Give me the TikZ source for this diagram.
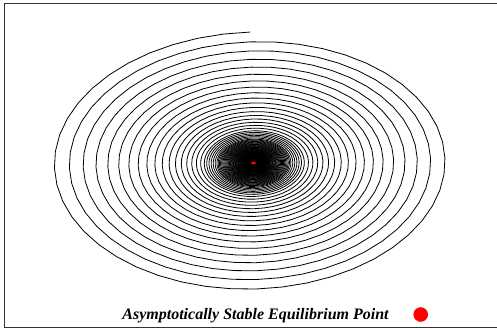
\documentclass[tikz,border=0pt]{standalone}
\usepackage{fontspec}
\setmainfont{Liberation Serif}

\begin{document}
\begin{tikzpicture}[x=1pt,y=-1pt]
		% Page area, same size as the plot window
		\useasboundingbox (0,0) rectangle (497,329);
		
		% Frame (left, top and bottom only)
		\draw[line width=1.4pt, black!80] (497,3.5) -- (4.5,3.5) -- (4.5,327.5) -- (497,327.5);
		
		% Centre of the phase portrait
		\coordinate (Eq) at (253.5,163);
		
		% Trajectory: a decaying spiral, one turn per step
		% (decay slows down after 18 and 24 turns, so the centre fills up)
		\begin{scope}[shift={(Eq)}, yscale=-1, rotate=-1.5]
			\foreach \n in {0,...,107}{
				\draw[line width=0.8pt] plot[domain=0:360, samples=49, variable=\t]
				({203*exp(-0.035*(\n+\t/360)-0.015*min(\n+\t/360,24)-0.028*min(\n+\t/360,18))*cos(\t+90)},
				 {131*exp(-0.035*(\n+\t/360)-0.015*min(\n+\t/360,24)-0.028*min(\n+\t/360,18))*sin(\t+90)});
			}
		\end{scope}
		
		% Equilibrium point
		\fill[red] (Eq) ellipse (2.4 and 1.4);
		
		% Legend
		\node[font=\bfseries\itshape\fontsize{16}{19}\selectfont, anchor=base] (LegText) at (255.5,319.5) {Asymptotically Stable Equilibrium Point};
		\coordinate (LegDot) at (420.7,314.5);
		\fill[red] (LegDot) circle (7.3);
		
	\end{tikzpicture}
\end{document}
